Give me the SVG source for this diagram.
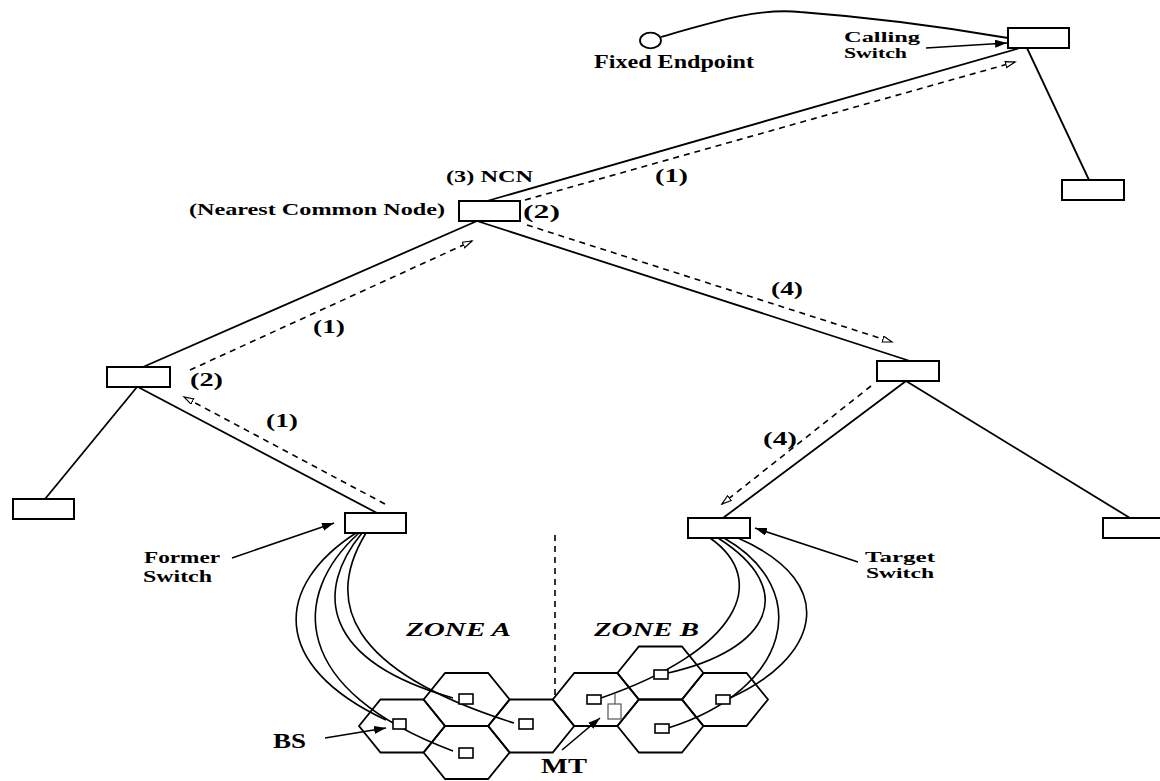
<svg xmlns="http://www.w3.org/2000/svg" width="1160" height="781" viewBox="0 0 1160 781">
<style>
.bg{fill:#fff}
.box{fill:#fff;stroke:#000;stroke-width:2}
.ln{fill:none;stroke:#000;stroke-width:1.8}
.cv{fill:none;stroke:#000;stroke-width:1.6}
.dash{fill:none;stroke:#000;stroke-width:1.6;stroke-dasharray:6 5;marker-end:url(#open)}
.arr{fill:none;stroke:#000;stroke-width:1.6;marker-end:url(#solid)}
.hex{fill:none;stroke:#000;stroke-width:1.8}
.sq{fill:#fff;stroke:#000;stroke-width:1.6}
.mt{fill:#fff;stroke:#555;stroke-width:1.2}
text{font-family:"Liberation Serif","Times New Roman",serif;font-weight:bold;fill:#000}
.zone{font-style:italic;font-size:19px}
</style>
<defs>
<marker id="open" markerUnits="userSpaceOnUse" markerWidth="12" markerHeight="8" refX="10" refY="3.5" orient="auto">
<path d="M0.5,0.5 L10,3.5 L0.5,6.5 z" fill="#fff" stroke="#000" stroke-width="1.2"/>
</marker>
<marker id="solid" markerUnits="userSpaceOnUse" markerWidth="14" markerHeight="10" refX="12" refY="4" orient="auto">
<path d="M0,0 L12,4 L0,8 z" fill="#000"/>
</marker>
</defs>
<rect class="bg" x="0" y="0" width="1160" height="781"/>

<g id="connectors">
<path class="ln" d="M661,37 C720,20 760,8 800,12 C880,18 950,28 1008,38"/>
<line class="ln" x1="1020" y1="48" x2="487" y2="201"/>
<line class="ln" x1="1027" y1="48" x2="1089" y2="180"/>
<line class="ln" x1="477" y1="221" x2="143" y2="367"/>
<line class="ln" x1="477" y1="221" x2="910" y2="361"/>
<line class="ln" x1="137" y1="387" x2="45" y2="499"/>
<line class="ln" x1="138" y1="387" x2="377" y2="513"/>
<line class="ln" x1="906" y1="381" x2="723" y2="518"/>
<line class="ln" x1="906" y1="381" x2="1130" y2="518"/>
<line class="dash" x1="525" y1="200" x2="1015" y2="62"/>
<line class="dash" x1="190" y1="370" x2="472" y2="241"/>
<line class="dash" x1="385" y1="504" x2="184" y2="397"/>
<line class="dash" x1="527" y1="225" x2="892" y2="342"/>
<line class="dash" x1="871" y1="386" x2="722" y2="504"/>
<line x1="555" y1="535" x2="555" y2="697" stroke="#000" stroke-width="1.6" stroke-dasharray="6 5"/>
<path class="cv" d="M356,533 C275,585 268,665 386,720"/>
<path class="cv" d="M359,533 C290,595 290,690 453,751"/>
<path class="cv" d="M362,533 C315,590 320,660 453,698"/>
<path class="cv" d="M366,533 C325,600 345,670 514,723"/>
<path class="cv" d="M710,538 C770,580 740,650 601,698"/>
<path class="cv" d="M718,538 C800,590 770,650 668,673"/>
<path class="cv" d="M724,538 C815,590 790,690 668,728"/>
<path class="cv" d="M738,538 C845,585 815,660 730,698"/>
<line class="arr" x1="926" y1="48" x2="1007" y2="43"/>
<line class="arr" x1="232" y1="558" x2="334" y2="523"/>
<line class="arr" x1="858" y1="562" x2="755" y2="528"/>
<line class="arr" x1="325" y1="738" x2="386" y2="728"/>
<line class="arr" x1="562" y1="750" x2="600" y2="718"/>
</g>

<g id="cells">
<polygon class="hex" points="359,726 380.5,699.5 423.5,699.5 445,726 423.5,752.5 380.5,752.5"/>
<polygon class="hex" points="423.6,699.5 445.1,673 488.1,673 509.6,699.5 488.1,726 445.1,726"/>
<polygon class="hex" points="423.6,752.5 445.1,726 488.1,726 509.6,752.5 488.1,779 445.1,779"/>
<polygon class="hex" points="488.2,726 509.7,699.5 552.7,699.5 574.2,726 552.7,752.5 509.7,752.5"/>
<polygon class="hex" points="552.8,699.5 574.3,673 617.3,673 638.8,699.5 617.3,726 574.3,726"/>
<polygon class="hex" points="617.4,673 638.9,646.5 681.9,646.5 703.4,673 681.9,699.5 638.9,699.5"/>
<polygon class="hex" points="617.4,726 638.9,699.5 681.9,699.5 703.4,726 681.9,752.5 638.9,752.5"/>
<polygon class="hex" points="682,699.5 703.5,673 746.5,673 768,699.5 746.5,726 703.5,726"/>
</g>

<g id="bs">
<rect class="sq" x="393" y="719" width="13" height="10"/>
<rect class="sq" x="459" y="694" width="14" height="10"/>
<rect class="sq" x="459" y="748" width="14" height="10"/>
<rect class="sq" x="519" y="719" width="14" height="10"/>
<rect class="sq" x="587" y="695" width="14" height="9"/>
<rect class="sq" x="654" y="670" width="14" height="9"/>
<rect class="sq" x="655" y="724" width="14" height="9"/>
<rect class="sq" x="716" y="695" width="14" height="9"/>
</g>

<g id="mt">
<line x1="615" y1="694" x2="615" y2="704" stroke="#555" stroke-width="1.2"/>
<rect class="mt" x="608" y="704" width="13" height="15"/>
</g>

<g id="fixed-endpoint">
<ellipse cx="650.5" cy="40.5" rx="10.5" ry="7.8" fill="#fff" stroke="#000" stroke-width="1.8"/>
<text x="594" y="68" font-size="18" textLength="160" lengthAdjust="spacingAndGlyphs">Fixed Endpoint</text>
</g>

<g id="calling-switch">
<rect class="box" x="1008" y="28" width="61" height="20"/>
<text x="844" y="42" font-size="14.5" textLength="76" lengthAdjust="spacingAndGlyphs">Calling</text>
<text x="844" y="58" font-size="14.5" textLength="63" lengthAdjust="spacingAndGlyphs">Switch</text>
</g>

<g id="node-top-right">
<rect class="box" x="1062" y="180" width="62" height="20"/>
</g>

<g id="ncn">
<rect class="box" x="459" y="201" width="61" height="20"/>
<text x="446" y="182" font-size="16" textLength="87" lengthAdjust="spacingAndGlyphs">(3) NCN</text>
<text x="189" y="215" font-size="16" textLength="256" lengthAdjust="spacingAndGlyphs">(Nearest Common Node)</text>
</g>

<g id="node-left-mid">
<rect class="box" x="107" y="367" width="63" height="20"/>
</g>

<g id="node-right-mid">
<rect class="box" x="877" y="361" width="62" height="20"/>
</g>

<g id="node-bottom-left">
<rect class="box" x="13" y="499" width="61" height="20"/>
</g>

<g id="former-switch">
<rect class="box" x="345" y="513" width="61" height="20"/>
<text x="144" y="563" font-size="17" textLength="76" lengthAdjust="spacingAndGlyphs">Former</text>
<text x="143" y="582" font-size="17" textLength="69" lengthAdjust="spacingAndGlyphs">Switch</text>
</g>

<g id="target-switch">
<rect class="box" x="688" y="518" width="62" height="20"/>
<text x="865" y="562" font-size="14" textLength="70" lengthAdjust="spacingAndGlyphs">Target</text>
<text x="866" y="578" font-size="14" textLength="68" lengthAdjust="spacingAndGlyphs">Switch</text>
</g>

<g id="node-bottom-right">
<rect class="box" x="1103" y="518" width="62" height="20"/>
</g>

<g id="step-labels">
<text x="523" y="218" font-size="18" textLength="37" lengthAdjust="spacingAndGlyphs">(2)</text>
<text x="655" y="182" font-size="18" textLength="33" lengthAdjust="spacingAndGlyphs">(1)</text>
<text x="771" y="295" font-size="18" textLength="32" lengthAdjust="spacingAndGlyphs">(4)</text>
<text x="313" y="333" font-size="18" textLength="32" lengthAdjust="spacingAndGlyphs">(1)</text>
<text x="190" y="386" font-size="18" textLength="33" lengthAdjust="spacingAndGlyphs">(2)</text>
<text x="266" y="427" font-size="18" textLength="32" lengthAdjust="spacingAndGlyphs">(1)</text>
<text x="763" y="445" font-size="18" textLength="34" lengthAdjust="spacingAndGlyphs">(4)</text>
</g>

<g id="zone-labels">
<text class="zone" x="406" y="636" textLength="105" lengthAdjust="spacingAndGlyphs">ZONE A</text>
<text class="zone" x="594" y="636" textLength="105" lengthAdjust="spacingAndGlyphs">ZONE B</text>
</g>

<g id="bs-label">
<text x="273" y="748" font-size="20" textLength="33" lengthAdjust="spacingAndGlyphs">BS</text>
</g>
<g id="mt-label">
<text x="541" y="773" font-size="22" textLength="46" lengthAdjust="spacingAndGlyphs">MT</text>
</g>
</svg>
